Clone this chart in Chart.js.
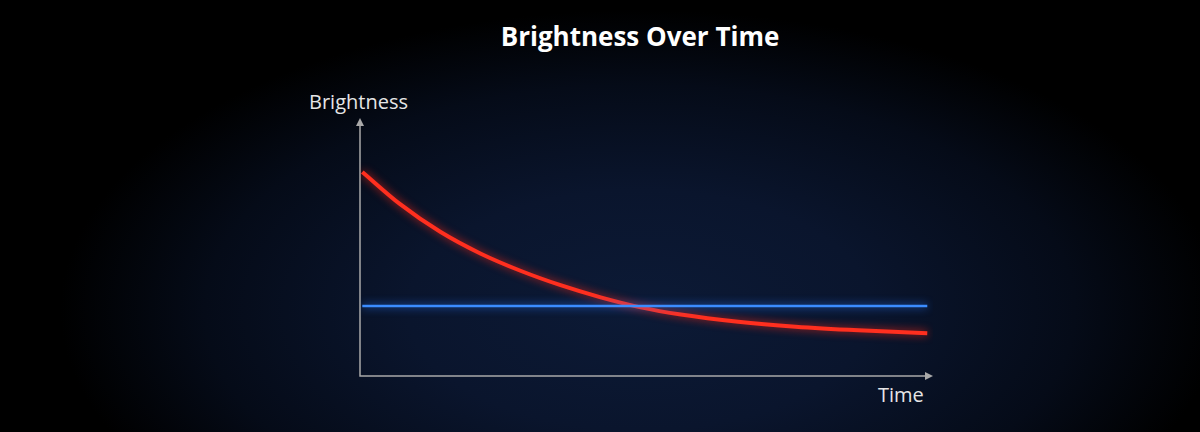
<!DOCTYPE html>
<html lang="en">
<head>
    <meta charset="UTF-8">
    <title>Brightness Over Time</title>
    <script src="https://cdn.jsdelivr.net/npm/chart.js"></script>
    <style>
        html, body {
            margin: 0;
            padding: 0;
        }
        body {
            width: 1200px;
            height: 432px;
            overflow: hidden;
            background-color: #000;
            background-image: radial-gradient(ellipse 580px 300px at 640px 310px, #0c1a36 0%, #0a152d 40%, #050b18 75%, #000 100%);
            font-family: 'Open Sans', sans-serif;
            position: relative;
        }
        .wrap {
            position: absolute;
            left: 0;
            top: 0;
            width: 1200px;
            height: 432px;
        }
        .title {
            position: absolute;
            left: 0;
            width: 1280px;
            top: 18px;
            text-align: center;
            color: #fff;
            font-weight: 700;
            font-size: 26px;
        }
        .axis-label {
            position: absolute;
            color: #e6e6e6;
            font-size: 20px;
        }
    </style>
</head>
<body>
    <div class="title">Brightness Over Time</div>
    <div class="axis-label" style="left:309px; top:88px;">Brightness</div>
    <div class="axis-label" style="left:878px; top:381px;">Time</div>
    <div class="wrap"><canvas id="chart" width="1200" height="432"></canvas></div>

    <script>
        // time positions (0-100) and brightness (0-100)
        const redTime = [0.4, 7, 14, 21, 28, 35, 42, 49, 56, 66, 76, 87, 99];
        const redBrightness = [79.1, 66.6, 55.9, 47.5, 40.8, 35.2, 30.5, 26.6, 23.8, 21.0, 19.1, 17.7, 16.6];
        const blueTime = [0.4, 99];
        const blueBrightness = [27.1, 27.1];

        const toPoints = (xs, ys) => xs.map((x, i) => ({ x: x, y: ys[i] }));

        // glow under each line
        const glowPlugin = {
            id: 'glow',
            beforeDatasetDraw(chart, args) {
                const ctx = chart.ctx;
                ctx.save();
                ctx.shadowColor = args.meta._dataset.glowColor;
                ctx.shadowBlur = 8;
            },
            afterDatasetDraw(chart) {
                chart.ctx.restore();
            }
        };

        // axes with arrow heads
        const arrowAxes = {
            id: 'arrowAxes',
            beforeDatasetsDraw(chart) {
                const { ctx, chartArea } = chart;
                const l = chartArea.left, b = chartArea.bottom;
                const t = chartArea.top, r = chartArea.right;
                ctx.save();
                ctx.strokeStyle = '#a9a9a9';
                ctx.fillStyle = '#a9a9a9';
                ctx.lineWidth = 1.5;
                ctx.beginPath();
                ctx.moveTo(l, t + 6);
                ctx.lineTo(l, b);
                ctx.lineTo(r - 6, b);
                ctx.stroke();
                ctx.beginPath();
                ctx.moveTo(l, t);
                ctx.lineTo(l - 4, t + 8);
                ctx.lineTo(l + 4, t + 8);
                ctx.closePath();
                ctx.fill();
                ctx.beginPath();
                ctx.moveTo(r, b);
                ctx.lineTo(r - 8, b - 4);
                ctx.lineTo(r - 8, b + 4);
                ctx.closePath();
                ctx.fill();
                ctx.restore();
            }
        };

        document.addEventListener('DOMContentLoaded', () => {
            const ctx = document.getElementById('chart').getContext('2d');
            new Chart(ctx, {
                type: 'line',
                data: {
                    datasets: [
                        {
                            label: 'Blue',
                            data: toPoints(blueTime, blueBrightness),
                            borderColor: '#3b8cff',
                            glowColor: 'rgba(40, 120, 255, 0.9)',
                            borderWidth: 2.5,
                            pointRadius: 0,
                            tension: 0
                        },
                        {
                            label: 'Red',
                            data: toPoints(redTime, redBrightness),
                            borderColor: '#ff2f1f',
                            glowColor: 'rgba(255, 40, 20, 0.8)',
                            borderWidth: 4,
                            pointRadius: 0,
                            cubicInterpolationMode: 'monotone'
                        }
                    ]
                },
                options: {
                    responsive: false,
                    animation: false,
                    events: [],
                    layout: {
                        padding: { left: 360, right: 267, top: 118, bottom: 56 }
                    },
                    scales: {
                        x: { type: 'linear', min: 0, max: 100, display: false },
                        y: { min: 0, max: 100, display: false }
                    },
                    plugins: {
                        legend: { display: false },
                        tooltip: { enabled: false }
                    }
                },
                plugins: [arrowAxes, glowPlugin]
            });
        });
    </script>
</body>
</html>
